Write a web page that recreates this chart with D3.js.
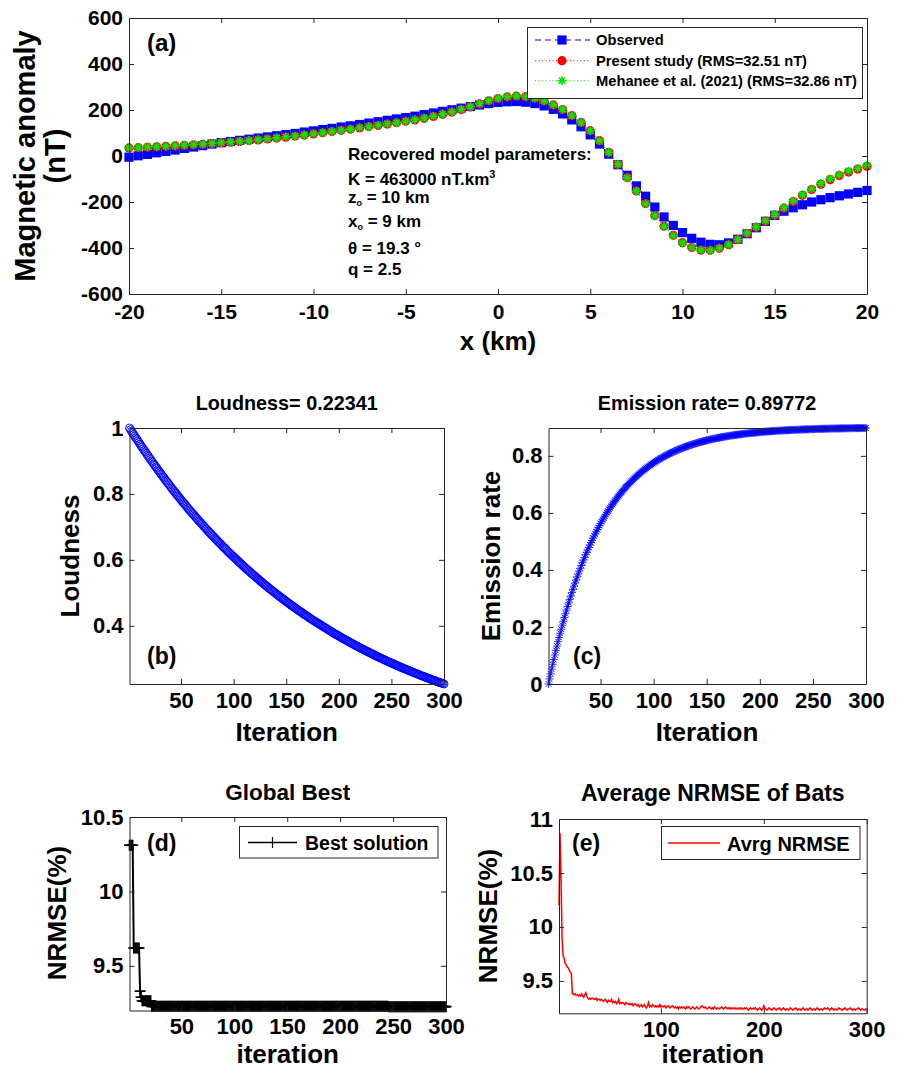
<!DOCTYPE html>
<html>
<head>
<meta charset="utf-8">
<script src="https://cdn.jsdelivr.net/npm/d3@7"></script>
<style>
html, body { margin: 0; padding: 0; background: #fff; }
svg { display: block; }
text { font-family: 'Liberation Sans', Arial, Helvetica, sans-serif; fill: #000; }
</style>
</head>
<body>
<script>
// ---------- (a) magnetic profile ----------
const xKm = [-20,-19.5,-19,-18.5,-18,-17.5,-17,-16.5,-16,-15.5,-15,-14.5,-14,-13.5,-13,-12.5,-12,-11.5,-11,-10.5,
  -10,-9.5,-9,-8.5,-8,-7.5,-7,-6.5,-6,-5.5,-5,-4.5,-4,-3.5,-3,-2.5,-2,-1.5,-1,-0.5,
  0,0.5,1,1.5,2,2.5,3,3.5,4,4.5,5,5.5,6,6.5,7,7.5,8,8.5,9,9.5,
  10,10.5,11,11.5,12,12.5,13,13.5,14,14.5,15,15.5,16,16.5,17,17.5,18,18.5,19,19.5,20];
const observed = [-5,1,7,14,20,26,33,39,45,52,58,63,68,73,78,83,88,93,98,104,
  109,115,120,126,131,137,143,149,155,161,167,173,180,187,194,201,208,215,222,228,
  233,236,237,234,228,218,203,183,157,127,92,52,8,-38,-84,-130,-175,-222,-265,-302,
  -333,-358,-375,-384,-386,-378,-362,-338,-312,-284,-258,-240,-225,-212,-200,-190,-181,-173,-165,-158,-150];
const presentStudy = [35,36,38,40,42,44,46,49,51,54,57,60,63,67,70,74,78,82,87,91,
  96,101,106,112,117,122,128,133,139,145,151,157,164,172,181,191,202,214,227,240,
  250,257,260,258,251,239,222,202,176,146,110,67,16,-36,-94,-152,-207,-259,-305,-345,
  -377,-398,-409,-410,-401,-386,-364,-337,-310,-283,-257,-227,-198,-171,-146,-123,-103,-85,-70,-57,-45];
const mehanee = [36,37,39,41,43,45,47,50,52,55,58,61,64,67,71,75,79,83,87,92,
  97,102,107,112,117,123,128,134,140,145,151,158,165,173,182,192,203,215,228,241,
  251,258,261,259,252,240,223,203,176,146,110,67,16,-36,-95,-153,-208,-260,-306,-346,
  -378,-398,-409,-410,-400,-385,-363,-335,-308,-281,-254,-224,-195,-168,-143,-119,-99,-81,-65,-53,-40];
const ticksAX = [-20,-15,-10,-5,0,5,10,15,20];
const ticksAY = [-600,-400,-200,0,200,400,600];
const legendA = ["Observed", "Present study (RMS=32.51 nT)", "Mehanee et al. (2021) (RMS=32.86 nT)"];

// ---------- (b) loudness per iteration ----------
const loudness = [
  1.000,0.995,0.990,0.985,0.980,0.975,0.970,0.966,0.961,0.956,
  0.951,0.946,0.942,0.937,0.932,0.928,0.923,0.918,0.914,0.909,
  0.905,0.900,0.896,0.891,0.887,0.882,0.878,0.873,0.869,0.865,
  0.860,0.856,0.852,0.848,0.843,0.839,0.835,0.831,0.827,0.822,
  0.818,0.814,0.810,0.806,0.802,0.798,0.794,0.790,0.786,0.782,
  0.778,0.774,0.771,0.767,0.763,0.759,0.755,0.751,0.748,0.744,
  0.740,0.737,0.733,0.729,0.726,0.722,0.718,0.715,0.711,0.708,
  0.704,0.701,0.697,0.694,0.690,0.687,0.683,0.680,0.676,0.673,
  0.670,0.666,0.663,0.660,0.656,0.653,0.650,0.647,0.643,0.640,
  0.637,0.634,0.631,0.627,0.624,0.621,0.618,0.615,0.612,0.609,
  0.606,0.603,0.600,0.597,0.594,0.591,0.588,0.585,0.582,0.579,
  0.576,0.573,0.570,0.568,0.565,0.562,0.559,0.556,0.554,0.551,
  0.548,0.545,0.543,0.540,0.537,0.534,0.532,0.529,0.526,0.524,
  0.521,0.519,0.516,0.513,0.511,0.508,0.506,0.503,0.501,0.498,
  0.496,0.493,0.491,0.488,0.486,0.483,0.481,0.479,0.476,0.474,
  0.471,0.469,0.467,0.464,0.462,0.460,0.458,0.455,0.453,0.451,
  0.448,0.446,0.444,0.442,0.440,0.437,0.435,0.433,0.431,0.429,
  0.427,0.424,0.422,0.420,0.418,0.416,0.414,0.412,0.410,0.408,
  0.406,0.404,0.402,0.400,0.398,0.396,0.394,0.392,0.390,0.388,
  0.386,0.384,0.382,0.380,0.378,0.376,0.374,0.373,0.371,0.369,
  0.367,0.365,0.363,0.361,0.360,0.358,0.356,0.354,0.353,0.351,
  0.349,0.347,0.346,0.344,0.342,0.340,0.339,0.337,0.335,0.334,
  0.332,0.330,0.329,0.327,0.325,0.324,0.322,0.321,0.319,0.317,
  0.316,0.314,0.313,0.311,0.309,0.308,0.306,0.305,0.303,0.302,
  0.300,0.299,0.297,0.296,0.294,0.293,0.291,0.290,0.288,0.287,
  0.286,0.284,0.283,0.281,0.280,0.279,0.277,0.276,0.274,0.273,
  0.272,0.270,0.269,0.268,0.266,0.265,0.264,0.262,0.261,0.260,
  0.258,0.257,0.256,0.255,0.253,0.252,0.251,0.249,0.248,0.247,
  0.246,0.245,0.243,0.242,0.241,0.240,0.238,0.237,0.236,0.235,
  0.234,0.233,0.231,0.230,0.229,0.228,0.227,0.226,0.225,0.22341];
const ticksLoudY = [0.4, 0.6, 0.8, 1];

// ---------- (c) pulse emission rate per iteration ----------
const emission = [
  0,.0178,.0353,.0524,.0692,.0856,.1018,.1176,.1331,.1483,
  .1631,.1777,.1920,.2061,.2198,.2333,.2465,.2594,.2721,.2845,
  .2967,.3087,.3204,.3318,.3431,.3541,.3649,.3755,.3859,.3961,
  .4061,.4159,.4254,.4348,.4440,.4531,.4619,.4706,.4791,.4874,
  .4956,.5036,.5115,.5192,.5267,.5341,.5413,.5484,.5554,.5622,
  .5689,.5755,.5819,.5882,.5944,.6004,.6063,.6122,.6179,.6234,
  .6289,.6343,.6396,.6447,.6498,.6547,.6596,.6643,.6690,.6736,
  .6781,.6825,.6868,.6910,.6951,.6992,.7032,.7071,.7109,.7146,
  .7183,.7219,.7254,.7289,.7323,.7356,.7388,.7420,.7452,.7482,
  .7512,.7542,.7571,.7599,.7627,.7654,.7681,.7707,.7732,.7757,
  .7782,.7806,.7830,.7853,.7876,.7898,.7920,.7941,.7962,.7983,
  .8003,.8023,.8042,.8061,.8079,.8098,.8116,.8133,.8150,.8167,
  .8184,.8200,.8216,.8231,.8246,.8261,.8276,.8290,.8304,.8318,
  .8332,.8345,.8358,.8370,.8383,.8395,.8407,.8419,.8430,.8442,
  .8453,.8464,.8474,.8485,.8495,.8505,.8515,.8524,.8534,.8543,
  .8552,.8561,.8569,.8578,.8586,.8595,.8603,.8610,.8618,.8626,
  .8633,.8640,.8648,.8655,.8661,.8668,.8675,.8681,.8687,.8694,
  .8700,.8706,.8711,.8717,.8723,.8728,.8734,.8739,.8744,.8749,
  .8754,.8759,.8764,.8768,.8773,.8777,.8782,.8786,.8790,.8795,
  .8799,.8803,.8807,.8810,.8814,.8818,.8821,.8825,.8828,.8832,
  .8835,.8838,.8842,.8845,.8848,.8851,.8854,.8857,.8860,.8862,
  .8865,.8868,.8870,.8873,.8875,.8878,.8880,.8883,.8885,.8887,
  .8890,.8892,.8894,.8896,.8898,.8900,.8902,.8904,.8906,.8908,
  .8910,.8911,.8913,.8915,.8916,.8918,.8920,.8921,.8923,.8924,
  .8926,.8927,.8929,.8930,.8932,.8933,.8934,.8936,.8937,.8938,
  .8939,.8941,.8942,.8943,.8944,.8945,.8946,.8947,.8948,.8949,
  .8950,.8951,.8952,.8953,.8954,.8955,.8956,.8957,.8958,.8959,
  .8959,.8960,.8961,.8962,.8962,.8963,.8964,.8965,.8965,.8966,
  .8967,.8967,.8968,.8969,.8969,.8970,.8970,.8971,.8972,.8972,
  .8973,.8973,.8974,.8974,.8975,.8975,.8976,.8976,.8977,.89772];
const ticksEmisY = [0, 0.2, 0.4, 0.6, 0.8];

// ---------- (d) global best NRMSE: level held for a run of iterations ----------
const bestLevels = [10.31, 9.62, 9.33, 9.29, 9.265, 9.228, 9.226];
const bestRuns   = [4, 6, 1, 1, 9, 224, 55];
const ticksBestY = [9.5, 10, 10.5];

// ---------- (e) average NRMSE of the bats ----------
const avgNrmse = [
  10.20,10.87,10.43,9.89,9.73,9.71,9.66,9.65,9.63,9.62,
  9.60,9.58,9.57,9.38,9.38,9.37,9.38,9.37,9.37,9.36,
  9.37,9.36,9.38,9.36,9.35,9.37,9.39,9.36,9.34,9.33,
  9.34,9.33,9.34,9.34,9.33,9.33,9.34,9.32,9.33,9.33,
  9.32,9.33,9.32,9.31,9.32,9.33,9.31,9.30,9.32,9.31,
  9.31,9.33,9.30,9.31,9.30,9.31,9.29,9.30,9.33,9.29,
  9.30,9.29,9.30,9.29,9.28,9.30,9.29,9.29,9.28,9.29,
  9.28,9.29,9.27,9.28,9.29,9.28,9.27,9.28,9.26,9.27,
  9.28,9.26,9.27,9.28,9.26,9.25,9.27,9.30,9.26,9.27,
  9.26,9.28,9.27,9.26,9.27,9.26,9.27,9.26,9.28,9.26,
  9.27,9.26,9.26,9.27,9.25,9.26,9.27,9.26,9.25,9.26,
  9.27,9.26,9.25,9.26,9.25,9.26,9.24,9.26,9.25,9.26,
  9.25,9.26,9.25,9.24,9.26,9.25,9.26,9.25,9.24,9.25,
  9.26,9.25,9.24,9.25,9.26,9.25,9.24,9.25,9.26,9.27,
  9.26,9.25,9.26,9.25,9.24,9.25,9.26,9.25,9.24,9.25,
  9.24,9.26,9.25,9.24,9.25,9.25,9.24,9.25,9.26,9.25,
  9.24,9.25,9.26,9.25,9.24,9.25,9.24,9.25,9.24,9.25,
  9.25,9.24,9.25,9.24,9.24,9.25,9.24,9.25,9.24,9.24,
  9.25,9.24,9.25,9.24,9.23,9.24,9.25,9.24,9.24,9.25,
  9.24,9.25,9.24,9.23,9.24,9.25,9.24,9.23,9.24,9.27,
  9.25,9.24,9.23,9.24,9.25,9.24,9.24,9.23,9.24,9.25,
  9.24,9.23,9.24,9.24,9.25,9.24,9.23,9.24,9.25,9.24,
  9.23,9.24,9.24,9.23,9.24,9.25,9.24,9.23,9.24,9.24,
  9.25,9.24,9.23,9.24,9.24,9.23,9.24,9.25,9.24,9.23,
  9.24,9.24,9.23,9.24,9.25,9.24,9.23,9.24,9.24,9.23,
  9.24,9.25,9.24,9.23,9.24,9.24,9.23,9.24,9.25,9.24,
  9.24,9.25,9.24,9.23,9.24,9.25,9.24,9.23,9.24,9.24,
  9.23,9.24,9.25,9.24,9.24,9.23,9.24,9.24,9.25,9.24,
  9.23,9.24,9.24,9.25,9.24,9.23,9.24,9.24,9.23,9.24,
  9.24,9.25,9.24,9.23,9.24,9.24,9.23,9.23,9.24,9.23];
const ticksIter = [50, 100, 150, 200, 250, 300];
const ticksAvgX = [100, 200, 300];
const ticksAvgY = [9.5, 10, 10.5, 11];

// iteration numbers 1..300
const iterations = d3.range(1, 301);
// expand the run-length global-best record to one value per iteration
const bestSeries = bestLevels.flatMap((v, k) => Array(bestRuns[k]).fill(v));

const W = 898, H = 1073;
const AXC = '#262626';
const svg = d3.select('body').append('svg').attr('width', W).attr('height', H);
svg.append('rect').attr('width', W).attr('height', H).attr('fill', '#fff');

const fmt = d => String(d);

function drawAxes(x, y, xt, yt, fs, xpad) {
  const g = svg.append('g');
  const [xa, xb] = x.range();
  const [yb, ya] = y.range();
  g.append('g').attr('transform', `translate(0,${yb})`)
    .call(d3.axisBottom(x).tickValues(xt).tickFormat(fmt).tickSizeInner(-5).tickSizeOuter(0).tickPadding(xpad || 8));
  g.append('g').attr('transform', `translate(${xa},0)`)
    .call(d3.axisLeft(y).tickValues(yt).tickFormat(fmt).tickSizeInner(-5).tickSizeOuter(0).tickPadding(6));
  g.append('g').attr('transform', `translate(0,${ya})`)
    .call(d3.axisTop(x).tickValues(xt).tickFormat('').tickSizeInner(-5).tickSizeOuter(0));
  g.append('g').attr('transform', `translate(${xb},0)`)
    .call(d3.axisRight(y).tickValues(yt).tickFormat('').tickSizeInner(-5).tickSizeOuter(0));
  g.selectAll('text').attr('font-size', fs).attr('font-weight', 'bold').attr('fill', '#000');
  g.selectAll('.domain, .tick line').attr('stroke', AXC).attr('stroke-width', 1);
  return g;
}

function label(txt, x, y, size, weight, anchor, rotate) {
  const t = svg.append('text').text(txt)
    .attr('font-size', size).attr('font-weight', weight || 'bold')
    .attr('text-anchor', anchor || 'middle');
  if (rotate) t.attr('transform', `translate(${x},${y}) rotate(-90)`);
  else t.attr('x', x).attr('y', y);
  return t;
}

const starPath = s => { const d = s * 0.72; return `M${-s},0H${s}M0,${-s}V${s}M${-d},${-d}L${d},${d}M${-d},${d}L${d},${-d}`; };
const plusPath = s => `M${-s},0H${s}M0,${-s}V${s}`;

// ================= (a) =================
{
  const x = d3.scaleLinear().domain([-20, 20]).range([129, 867]);
  const y = d3.scaleLinear().domain([-600, 600]).range([294, 18]);
  const line = d3.line().x((d, i) => x(xKm[i])).y(d => y(d));

  const g = svg.append('g');
  // observed: dashed blue with filled squares
  g.append('path').datum(observed).attr('d', line).attr('fill', 'none')
    .attr('stroke', '#0000ff').attr('stroke-width', 1).attr('stroke-dasharray', '6,4');
  g.selectAll('rect.obs').data(observed).join('rect').attr('class', 'obs')
    .attr('x', (d, i) => x(xKm[i]) - 4.6).attr('y', d => y(d) - 4.6)
    .attr('width', 9.2).attr('height', 9.2).attr('fill', '#0000ff');
  // present study: dotted red with filled circles
  g.append('path').datum(presentStudy).attr('d', line).attr('fill', 'none')
    .attr('stroke', '#ff0000').attr('stroke-width', 1).attr('stroke-dasharray', '1,2.5');
  g.selectAll('circle.ps').data(presentStudy).join('circle').attr('class', 'ps')
    .attr('cx', (d, i) => x(xKm[i])).attr('cy', d => y(d)).attr('r', 4.6).attr('fill', '#ff0000');
  // Mehanee et al.: dotted green with asterisks
  g.append('path').datum(mehanee).attr('d', line).attr('fill', 'none')
    .attr('stroke', '#00e600').attr('stroke-width', 1).attr('stroke-dasharray', '1,2.5');
  g.selectAll('path.mh').data(mehanee).join('path').attr('class', 'mh')
    .attr('d', starPath(4.3)).attr('transform', (d, i) => `translate(${x(xKm[i])},${y(d)})`)
    .attr('fill', 'none').attr('stroke', '#00e600').attr('stroke-width', 1.6);

  drawAxes(x, y, ticksAX, ticksAY, 21, 10);

  // legend
  const lg = svg.append('g');
  lg.append('rect').attr('x', 527.5).attr('y', 27.5).attr('width', 335).attr('height', 71)
    .attr('fill', '#fff').attr('stroke', AXC).attr('stroke-width', 1);
  const rows = [40, 60.7, 80.7];
  lg.append('line').attr('x1', 535).attr('x2', 590).attr('y1', rows[0]).attr('y2', rows[0])
    .attr('stroke', '#0000ff').attr('stroke-dasharray', '6,4');
  lg.append('rect').attr('x', 562 - 4.6).attr('y', rows[0] - 4.6).attr('width', 9.2).attr('height', 9.2).attr('fill', '#0000ff');
  lg.append('line').attr('x1', 535).attr('x2', 590).attr('y1', rows[1]).attr('y2', rows[1])
    .attr('stroke', '#ff0000').attr('stroke-dasharray', '1,2.5');
  lg.append('circle').attr('cx', 562).attr('cy', rows[1]).attr('r', 4.6).attr('fill', '#ff0000');
  lg.append('line').attr('x1', 535).attr('x2', 590).attr('y1', rows[2]).attr('y2', rows[2])
    .attr('stroke', '#00e600').attr('stroke-dasharray', '1,2.5');
  lg.append('path').attr('d', starPath(4.3)).attr('transform', `translate(562,${rows[2]})`)
    .attr('fill', 'none').attr('stroke', '#00e600').attr('stroke-width', 1.6);
  legendA.forEach((t, i) => {
    lg.append('text').text(t).attr('x', 596).attr('y', rows[i] + 5.3)
      .attr('font-size', 14.7).attr('font-weight', 'bold');
  });

  label('(a)', 147, 51, 24, 'bold', 'start');
  label('x (km)', 498, 350, 26, 'bold');
  label('Magnetic anomaly', 35, 156, 29, 'bold', 'middle', true);
  label('(nT)', 65, 156, 29, 'bold', 'middle', true);

  // recovered model parameters
  const px = 348, fs = 17;
  label('Recovered model parameters:', px, 160, fs, 'bold', 'start');
  const k = label('K = 463000 nT.km', px, 185, fs, 'bold', 'start');
  k.append('tspan').text('3').attr('font-size', 11).attr('dy', -7);
  const z = svg.append('text').attr('x', px).attr('y', 203).attr('font-size', fs).attr('font-weight', 'bold');
  z.append('tspan').text('z');
  z.append('tspan').text('o').attr('font-size', 9).attr('dy', 3);
  z.append('tspan').text(' = 10 km').attr('dy', -3);
  const xo = svg.append('text').attr('x', px).attr('y', 227).attr('font-size', fs).attr('font-weight', 'bold');
  xo.append('tspan').text('x');
  xo.append('tspan').text('o').attr('font-size', 9).attr('dy', 3);
  xo.append('tspan').text(' = 9 km').attr('dy', -3);
  label('\u03b8 = 19.3 \u00b0', px, 254, fs, 'bold', 'start');
  label('q = 2.5', px, 275, fs, 'bold', 'start');
}

// ================= (b) =================
{
  const x = d3.scaleLinear().domain([1, 300]).range([129.5, 444]);
  const y = d3.scaleLinear().domain([0.22341, 1]).range([684, 428]);
  const g = svg.append('g');
  g.selectAll('circle').data(loudness).join('circle')
    .attr('cx', (d, i) => x(iterations[i])).attr('cy', d => y(d)).attr('r', 4)
    .attr('fill', 'none').attr('stroke', '#0000ff').attr('stroke-width', 0.9);
  drawAxes(x, y, ticksIter, ticksLoudY, 22);
  label('Loudness= 0.22341', 286.7, 410, 19.8, 'bold');
  label('Loudness', 79, 556, 26, 'bold', 'middle', true);
  label('Iteration', 286.7, 741, 26, 'bold');
  label('(b)', 147, 664, 23, 'bold', 'start');
}

// ================= (c) =================
{
  const x = d3.scaleLinear().domain([1, 300]).range([548.5, 866]);
  const y = d3.scaleLinear().domain([0, 0.89772]).range([684, 428]);
  const g = svg.append('g');
  g.append('path').datum(emission)
    .attr('d', d3.line().x((d, i) => x(iterations[i])).y(d => y(d)))
    .attr('fill', 'none').attr('stroke', '#0000ff').attr('stroke-width', 0.8);
  g.selectAll('path.st').data(emission).join('path').attr('class', 'st')
    .attr('d', starPath(4)).attr('transform', (d, i) => `translate(${x(iterations[i])},${y(d)})`)
    .attr('fill', 'none').attr('stroke', '#0000ff').attr('stroke-width', 0.8);
  drawAxes(x, y, ticksIter, ticksEmisY, 22);
  label('Emission rate= 0.89772', 707, 410, 19.8, 'bold');
  label('Emission rate', 500, 556, 26, 'bold', 'middle', true);
  label('Iteration', 707, 741, 26, 'bold');
  label('(c)', 573, 664, 23, 'bold', 'start');
}

// ================= (d) =================
{
  const x = d3.scaleLinear().domain([1, 300]).range([129.5, 446]);
  const y = d3.scaleLinear().domain([9.2, 10.5]).range([1010.5, 817]);
  const g = svg.append('g');
  g.append('path').datum(bestSeries)
    .attr('d', d3.line().x((d, i) => x(iterations[i])).y(d => y(d)))
    .attr('fill', 'none').attr('stroke', '#000').attr('stroke-width', 2);
  g.selectAll('path.pl').data(bestSeries).join('path').attr('class', 'pl')
    .attr('d', plusPath(5.5)).attr('transform', (d, i) => `translate(${x(iterations[i])},${y(d)})`)
    .attr('fill', 'none').attr('stroke', '#000').attr('stroke-width', 1.6);
  drawAxes(x, y, ticksIter, ticksBestY, 22);
  label('Global Best', 287.7, 800, 22.5, 'bold');
  label('NRMSE(%)', 66, 913, 26, 'bold', 'middle', true);
  label('iteration', 287.7, 1063, 26, 'bold');
  label('(d)', 147, 851, 23, 'bold', 'start');
  // legend
  svg.append('rect').attr('x', 239.5).attr('y', 826.5).attr('width', 198.5).attr('height', 31.5)
    .attr('fill', '#fff').attr('stroke', AXC).attr('stroke-width', 1);
  svg.append('line').attr('x1', 248).attr('x2', 297).attr('y1', 842.5).attr('y2', 842.5)
    .attr('stroke', '#000').attr('stroke-width', 1.5);
  svg.append('path').attr('d', plusPath(5.5)).attr('transform', 'translate(272.5,842.5)')
    .attr('stroke', '#000').attr('stroke-width', 1.2);
  label('Best solution', 305, 849.5, 19.5, 'bold', 'start');
}

// ================= (e) =================
{
  const x = d3.scaleLinear().domain([1, 300]).range([559, 866.7]);
  const y = d3.scaleLinear().domain([9.2, 11]).range([1013.3, 819]);
  svg.append('path').datum(avgNrmse)
    .attr('d', d3.line().x((d, i) => x(iterations[i])).y(d => y(d)))
    .attr('fill', 'none').attr('stroke', '#ff0000').attr('stroke-width', 1.5);
  drawAxes(x, y, ticksAvgX, ticksAvgY, 22);
  label('Average NRMSE of Bats', 712.8, 801, 23, 'bold');
  label('NRMSE(%)', 497, 916, 26, 'bold', 'middle', true);
  label('iteration', 712.8, 1063, 26, 'bold');
  label('(e)', 572, 851, 23, 'bold', 'start');
  svg.append('rect').attr('x', 661.5).attr('y', 826.5).attr('width', 198.5).attr('height', 33)
    .attr('fill', '#fff').attr('stroke', AXC).attr('stroke-width', 1);
  svg.append('line').attr('x1', 668).attr('x2', 720).attr('y1', 843).attr('y2', 843)
    .attr('stroke', '#ff0000').attr('stroke-width', 1.5);
  label('Avrg NRMSE', 727, 850.5, 20, 'bold', 'start');
}
</script>
</body>
</html>
